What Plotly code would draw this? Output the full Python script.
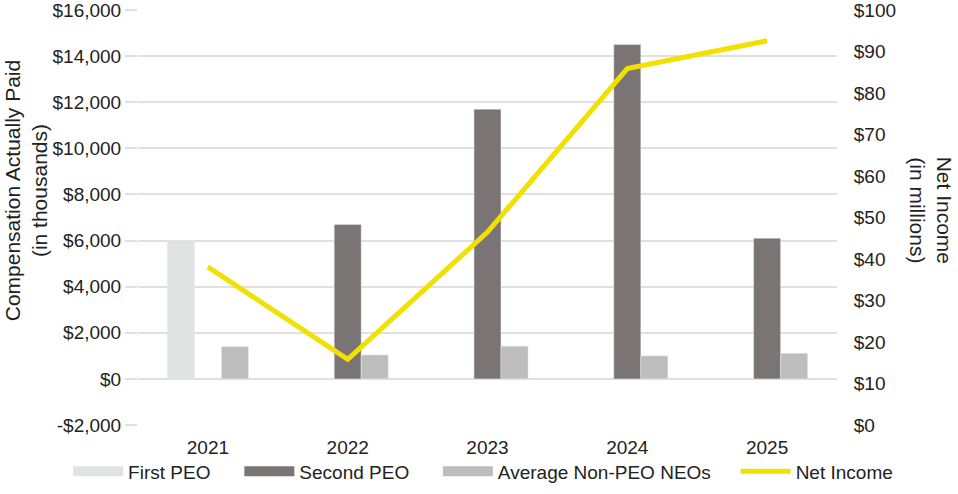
import plotly.graph_objects as go

years = ["2021", "2022", "2023", "2024", "2025"]
first_peo = [6000, None, None, None, None]
second_peo = [None, 6700, 11700, 14500, 6100]
avg_non_peo = [1400, 1040, 1420, 1000, 1110]
net_income = [38.1, 15.8, 46.5, 85.9, 92.6]

left_tickvals = [-2000, 0, 2000, 4000, 6000, 8000, 10000, 12000, 14000, 16000]
left_ticktext = ["-$2,000", "$0", "$2,000", "$4,000", "$6,000", "$8,000",
                 "$10,000", "$12,000", "$14,000", "$16,000"]
right_tickvals = [0, 10, 20, 30, 40, 50, 60, 70, 80, 90, 100]
right_ticktext = ["$" + str(v) for v in right_tickvals]

c_first, c_second, c_avg, c_net = "#E1E2E2", "#7A7574", "#BCBDBC", "#F0E100"

fig = go.Figure()
fig.add_trace(go.Bar(x=years, y=first_peo, name="First PEO", marker_color=c_first, showlegend=False))
fig.add_trace(go.Bar(x=years, y=second_peo, name="Second PEO", marker_color=c_second, showlegend=False))
fig.add_trace(go.Bar(x=years, y=avg_non_peo, name="Average Non-PEO NEOs", marker_color=c_avg, showlegend=False))
fig.add_trace(go.Scatter(x=years, y=net_income, name="Net Income", mode="lines",
                         line=dict(color=c_net, width=5), yaxis="y2", showlegend=False))

# legend entries (wide swatches like the reference), each in its own legend box
legend_items = [("First PEO", c_first, 10, "legend", -0.100),
                ("Second PEO", c_second, 10, "legend2", 0.145),
                ("Average Non-PEO NEOs", c_avg, 10, "legend3", 0.429),
                ("Net Income", c_net, 5, "legend4", 0.855)]
for nm, col, w, lg, _ in legend_items:
    fig.add_trace(go.Scatter(x=[None], y=[None], mode="lines", name=nm,
                             line=dict(color=col, width=w), showlegend=True, legend=lg))

font = "Liberation Sans, Arial, sans-serif"
legend_common = dict(orientation="h", xanchor="left", y=-0.066, yanchor="top",
                     font=dict(size=19, family=font, color="#222222"),
                     bgcolor="rgba(0,0,0,0)", itemwidth=50)
layout_legends = {}
for nm, col, w, lg, xpos in legend_items:
    layout_legends[lg] = dict(legend_common, x=xpos)

fig.update_layout(
    width=958, height=494,
    margin=dict(l=138, r=121, t=10, b=69, autoexpand=False),
    plot_bgcolor="white", paper_bgcolor="white",
    font=dict(family=font, size=19, color="#222222"),
    barmode="group", bargap=0.42, bargroupgap=0,
    xaxis=dict(showgrid=False, showline=False, ticks="outside", ticklen=5,
               tickcolor="rgba(0,0,0,0)", tickfont=dict(size=19), automargin=False,
               ticklabeloverflow="allow"),
    yaxis=dict(range=[-2000, 16000], tickvals=left_tickvals, ticktext=left_ticktext,
               showgrid=True, gridcolor="#E0E0E0", gridwidth=2, zeroline=False,
               ticks="outside", ticklen=12, tickcolor="#E0E0E0", tickwidth=2,
               tickfont=dict(size=19), automargin=False, ticklabeloverflow="allow"),
    yaxis2=dict(range=[0, 100], tickvals=right_tickvals, ticktext=right_ticktext,
                overlaying="y", side="right", showgrid=False, zeroline=False,
                ticks="outside", ticklen=12, tickcolor="rgba(0,0,0,0)",
                tickfont=dict(size=19), automargin=False, ticklabeloverflow="allow"),
    annotations=[
        dict(text="Compensation Actually Paid<br>(in thousands)", textangle=-90,
             xref="paper", yref="paper", x=-0.160, y=0.566,
             xanchor="center", yanchor="middle", showarrow=False,
             font=dict(size=21)),
        dict(text="Net Income<br>(in millions)", textangle=90,
             xref="paper", yref="paper", x=1.135, y=0.518,
             xanchor="center", yanchor="middle", showarrow=False,
             font=dict(size=21)),
    ],
    **layout_legends,
)

fig.write_html("out.html", config={"displayModeBar": False},
               post_script="document.body.style.margin='0';")
